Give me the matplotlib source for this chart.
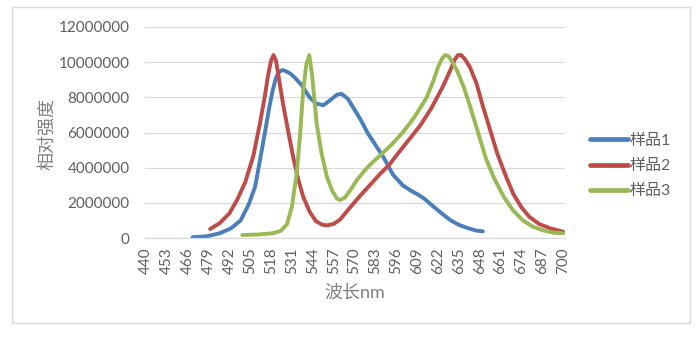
import matplotlib
matplotlib.use("Agg")
import matplotlib.pyplot as plt
from matplotlib.patches import Rectangle

plt.rcParams['font.family'] = ['Lato', 'Noto Sans CJK SC', 'DejaVu Sans']

# 样品1
s1_wl = [469, 478, 486, 493, 499, 504, 508, 513, 517, 519, 521, 523, 525, 527, 530, 533, 537,
         542, 546, 550.5, 555, 559, 562, 566, 570, 574, 578, 583, 588, 594, 600, 605, 610, 614,
         619, 625, 630, 635, 641, 646, 650]
s1_val = [0.04, 0.10, 0.27, 0.55, 1.0, 1.9, 2.9, 5.4, 7.5, 8.4, 9.1, 9.45, 9.55, 9.5, 9.35, 9.1,
          8.7, 8.0, 7.65, 7.55, 7.85, 8.15, 8.2, 7.9, 7.3, 6.7, 6.0, 5.3, 4.6, 3.6, 3.0, 2.7, 2.45,
          2.2, 1.8, 1.35, 1.0, 0.75, 0.55, 0.42, 0.38]

# 样品2
s2_wl = [480, 486, 492, 497, 502, 507, 511, 514, 516, 518, 519.5, 521, 523, 525.5, 529, 532,
         535, 538, 542, 546, 550, 553, 557, 561, 566, 573, 580, 586, 592, 597, 604, 611, 618, 625,
         630, 632.5, 634.5, 636.5, 639, 642, 646, 650, 655, 659, 664, 669, 674, 679, 685, 692, 700]
s2_val = [0.51, 0.85, 1.4, 2.2, 3.2, 4.7, 6.5, 8.0, 9.2, 10.1, 10.4, 10.1, 9.0, 7.6, 5.9, 4.5,
          3.3, 2.35, 1.5, 0.95, 0.75, 0.72, 0.8, 1.05, 1.6, 2.35, 3.05, 3.65, 4.2, 4.8, 5.6, 6.4,
          7.4, 8.6, 9.6, 10.15, 10.4, 10.4, 10.15, 9.7, 8.8, 7.5, 6.0, 4.8, 3.6, 2.5, 1.75, 1.2,
          0.8, 0.55, 0.36]

# 样品3
s3_wl = [500, 510, 519, 524, 528, 531, 534, 536, 538, 540, 541.8, 543.5, 546.4, 549.5, 552.7,
         556, 559, 561, 564, 568, 571.5, 576, 580, 586, 593, 600, 606, 611, 615, 619, 622, 624.5,
         626.5, 628.5, 631, 634, 638, 642, 647, 652, 657, 663, 669, 675, 681, 688, 694, 700]
s3_val = [0.17, 0.2, 0.27, 0.4, 0.8, 1.8, 3.7, 5.8, 8.4, 9.9, 10.4, 9.3, 6.5, 4.8, 3.5,
          2.7, 2.25, 2.16, 2.3, 2.8, 3.3, 3.8, 4.2, 4.7, 5.3, 6.0, 6.7, 7.4, 8.0, 8.9, 9.7, 10.2,
          10.4, 10.35, 10.0, 9.5, 8.6, 7.5, 6.0, 4.5, 3.4, 2.35, 1.55, 1.0, 0.65, 0.42, 0.3, 0.27]

x_ticks = list(range(440, 701, 13))
y_ticks = [0, 2000000, 4000000, 6000000, 8000000, 10000000, 12000000]

grey = '#5f5f5f'
fs = 11

fig = plt.figure(figsize=(7, 3.38), dpi=100)
ax = fig.add_axes([145/700, 1-238/338, 420/700, 211/338])

series = [(s1_wl, s1_val, '#4A7EBB', '样品1'),
          (s2_wl, s2_val, '#BE4B48', '样品2'),
          (s3_wl, s3_val, '#98B954', '样品3')]
for wl, val, c, name in series:
    ax.plot(wl, [v * 1e6 for v in val], color=c, lw=2.8, label=name,
            solid_capstyle='round', solid_joinstyle='round')

ax.set_xlim(439.4, 701.2)
ax.set_ylim(0, 12000000)
ax.set_xticks(x_ticks)
ax.set_xticklabels([str(t) for t in x_ticks], rotation=90, fontsize=fs, color=grey)
ax.set_yticks(y_ticks)
ax.set_yticklabels([str(t) for t in y_ticks], fontsize=fs, color=grey)
ax.tick_params(axis='both', length=0)
ax.tick_params(axis='x', pad=7)
ax.tick_params(axis='y', pad=11)
ax.grid(axis='y', color='#D9D9D9', lw=0.9)
ax.set_axisbelow(True)
for side in ['top', 'right', 'left']:
    ax.spines[side].set_visible(False)
ax.spines['bottom'].set_color('#D9D9D9')
ax.spines['bottom'].set_linewidth(0.9)

fig.text(47/700, 1-134/338, '相对强度', rotation=90, ha='center', va='center',
         fontsize=13, color='#808080')
fig.text(355/700, 1-292/338, '波长nm', ha='center', va='center', fontsize=13,
         color='#808080')

leg = ax.legend(loc='center left', bbox_to_anchor=(590/700, 1-166/338),
                bbox_transform=fig.transFigure, frameon=False, fontsize=11.5,
                handlelength=2.4, handletextpad=0.1, labelspacing=0.7,
                borderpad=0, borderaxespad=0)
for t in leg.get_texts():
    t.set_color(grey)
for h in leg.get_lines():
    h.set_linewidth(3.4)

fig.patches.append(Rectangle((12/700, 1-323/338), 678/700, 316/338,
                             transform=fig.transFigure, fill=False,
                             edgecolor='#D9D9D9', lw=1))

fig.savefig('out.png', dpi=100)
